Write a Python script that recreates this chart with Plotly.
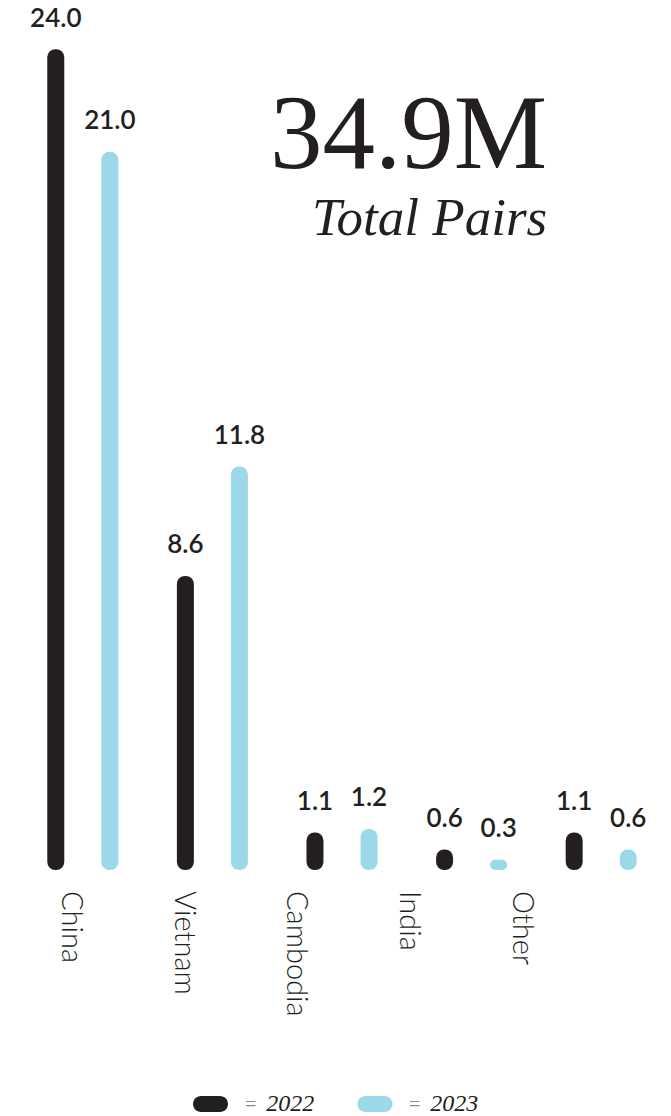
import plotly.graph_objects as go

# ---------------- data ----------------
categories = ["China", "Vietnam", "Cambodia", "India", "Other"]
pairs_2022 = [24.0, 8.6, 1.1, 0.6, 1.1]
pairs_2023 = [21.0, 11.8, 1.2, 0.3, 0.6]
series_names = ["2022", "2023"]
total_value = "34.9M"
total_caption = "Total Pairs"

# ---------------- style ----------------
BLACK = "#231f20"
BLUE = "#9bd9ea"
BAR_W = 0.131
HALF_SEP = 0.2085
LABEL_PAD = 0.4

W, H = 671, 1116
ML, MR, MT, MB = 10, 5, 15, 246
PW = W - ML - MR
PH = H - MT - MB


def px_x(p):
    return (p - ML) / PW


def px_y(p):
    return (H - MB - p) / PH


fig = go.Figure()

for vals, color, off in [(pairs_2022, BLACK, -HALF_SEP), (pairs_2023, BLUE, HALF_SEP)]:
    common = dict(x=categories, width=BAR_W, offset=off - BAR_W / 2,
                  hoverinfo="skip", showlegend=False)
    # floating bar from explicit zero base -> rounded at both ends
    fig.add_trace(go.Bar(y=vals, base=[0] * len(vals),
                         marker=dict(color=color, cornerradius="50%", line_width=0),
                         **common))
    # value labels
    fig.add_trace(go.Bar(y=[LABEL_PAD] * len(vals), base=vals,
                         marker=dict(color="rgba(0,0,0,0)", line_width=0),
                         text=[f"{v:.1f}" for v in vals], textposition="outside",
                         constraintext="none", cliponaxis=False,
                         textfont=dict(family="Lato", size=26, color=BLACK, weight=600),
                         **common))

# invisible trace for category label axis
fig.add_trace(go.Scatter(x=list(range(len(categories))), y=[0] * len(categories),
                         xaxis="x2", yaxis="y", mode="markers",
                         marker=dict(opacity=0), hoverinfo="skip", showlegend=False))

fig.update_layout(
    width=W, height=H,
    margin=dict(l=ML, r=MR, t=MT, b=MB),
    paper_bgcolor="white", plot_bgcolor="rgba(0,0,0,0)",
    barmode="overlay",
    showlegend=False,
    xaxis=dict(domain=[px_x(18), 1], type="category", range=[-0.5, 4.5],
               showticklabels=False, showgrid=False, zeroline=False, showline=False,
               fixedrange=True),
    xaxis2=dict(domain=[px_x(15), px_x(578.6)], anchor="y", range=[-0.5, 4.5],
                tickmode="array", tickvals=list(range(len(categories))),
                ticktext=categories, tickangle=90, ticklabelstandoff=20,
                tickfont=dict(family="Lato", size=29, color=BLACK, weight=300),
                showgrid=False, zeroline=False, showline=False, ticks="",
                fixedrange=True),
    yaxis=dict(range=[0, 25], visible=False, fixedrange=True),
)

# headline
fig.add_annotation(xref="paper", yref="paper", x=px_x(549), y=px_y(132),
                   xanchor="right", yanchor="middle", showarrow=False,
                   text=total_value,
                   font=dict(family="Liberation Serif", size=105, color=BLACK))
fig.add_annotation(xref="paper", yref="paper", x=px_x(549), y=px_y(217),
                   xanchor="right", yanchor="middle", showarrow=False,
                   text=f"<i>{total_caption}</i>",
                   font=dict(family="Liberation Serif", size=53, color=BLACK))

# legend: pills + labels
pill = ("M -9.5,-8 L 9.5,-8 C 13.9,-8 17.5,-4.4 17.5,0 C 17.5,4.4 13.9,8 9.5,8 "
        "L -9.5,8 C -13.9,8 -17.5,4.4 -17.5,0 C -17.5,-4.4 -13.9,-8 -9.5,-8 Z")
for name, color, cx, tx in [(series_names[0], BLACK, 210.5, 243),
                            (series_names[1], BLUE, 375, 407)]:
    fig.add_shape(type="path", xref="paper", yref="paper",
                  xsizemode="pixel", ysizemode="pixel",
                  xanchor=px_x(cx), yanchor=px_y(1104), path=pill,
                  fillcolor=color, line=dict(width=0))
    fig.add_annotation(xref="paper", yref="paper", x=px_x(tx), y=px_y(1103),
                       xanchor="left", yanchor="middle", showarrow=False,
                       text=f"<span style='color:#8a8a8a;font-size:20px'>=  </span><i>{name}</i>",
                       font=dict(family="Liberation Serif", size=24, color=BLACK))

fig.write_html("out.html", config={"displayModeBar": False})
